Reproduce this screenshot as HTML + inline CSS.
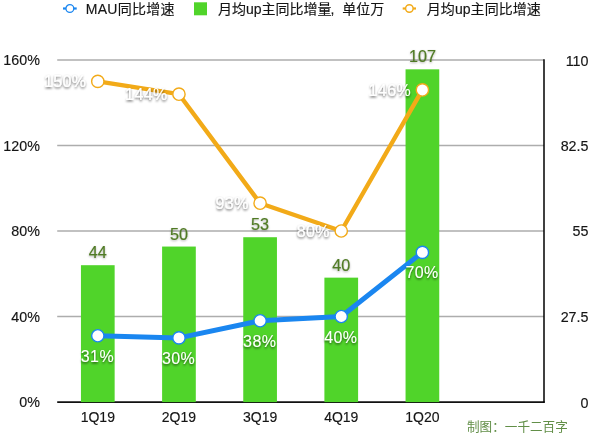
<!DOCTYPE html>
<html lang="zh-CN"><head><meta charset="utf-8"><title>chart</title>
<style>
html,body{margin:0;padding:0;background:#fff;}
body{width:600px;height:442px;overflow:hidden;}
svg{display:block;}
text{font-family:"Liberation Sans","Noto Sans CJK SC",sans-serif;}
.ax{font-size:14.3px;fill:#151515;stroke:#151515;stroke-width:0.15px;}
.ct{font-size:14px;fill:#151515;stroke:#151515;stroke-width:0.15px;}
.lg{font-size:14px;fill:#151515;stroke:#151515;stroke-width:0.15px;}
.dl{font-size:16px;fill:#fff;letter-spacing:0.4px;}
.bl{font-size:16.2px;fill:#507a25;stroke:#507a25;stroke-width:0.2px;}
.cr{font-size:12.6px;fill:#628f48;}
</style></head><body>
<svg width="600" height="442" viewBox="0 0 600 442">
<defs>
<filter id="sh" x="-20%" y="-30%" width="140%" height="170%"><feDropShadow dx="0" dy="1.4" stdDeviation="1.25" flood-color="#000" flood-opacity="0.62"/></filter>
<filter id="sh2" x="-20%" y="-30%" width="140%" height="170%"><feDropShadow dx="0" dy="1" stdDeviation="1.2" flood-color="#000" flood-opacity="0.3"/></filter>
</defs>
<rect width="600" height="442" fill="#fff"/>

<line x1="57.2" y1="316.50" x2="544.0" y2="316.50" stroke="#adadad" stroke-width="1.3"/>
<line x1="57.2" y1="231.00" x2="544.0" y2="231.00" stroke="#adadad" stroke-width="1.3"/>
<line x1="57.2" y1="145.50" x2="544.0" y2="145.50" stroke="#adadad" stroke-width="1.3"/>
<line x1="57.2" y1="60.00" x2="544.0" y2="60.00" stroke="#adadad" stroke-width="1.3"/>
<line x1="57.2" y1="402.1" x2="544.7" y2="402.1" stroke="#111" stroke-width="1.7"/>
<line x1="544.0" y1="59.3" x2="544.0" y2="402.7" stroke="#000" stroke-width="1.5"/>
<rect x="80.95" y="265.20" width="33.7" height="136.90" fill="#50d42a"/>
<rect x="162.10" y="246.55" width="33.7" height="155.55" fill="#50d42a"/>
<rect x="243.25" y="237.22" width="33.7" height="164.88" fill="#50d42a"/>
<rect x="324.40" y="277.64" width="33.7" height="124.46" fill="#50d42a"/>
<rect x="405.55" y="69.33" width="33.7" height="332.77" fill="#50d42a"/>
<polyline points="97.8,335.74 178.95,337.88 260.1,320.77 341.25,316.50 422.4,252.38" fill="none" stroke="#1a86f0" stroke-width="5" stroke-linejoin="round" stroke-linecap="round"/>
<circle cx="97.8" cy="335.74" r="6.15" fill="#fff" stroke="#1a86f0" stroke-width="1.4"/>
<circle cx="178.95" cy="337.88" r="6.15" fill="#fff" stroke="#1a86f0" stroke-width="1.4"/>
<circle cx="260.1" cy="320.77" r="6.15" fill="#fff" stroke="#1a86f0" stroke-width="1.4"/>
<circle cx="341.25" cy="316.50" r="6.15" fill="#fff" stroke="#1a86f0" stroke-width="1.4"/>
<circle cx="422.4" cy="252.38" r="6.15" fill="#fff" stroke="#1a86f0" stroke-width="1.4"/>
<polyline points="97.8,81.38 178.95,94.20 260.1,203.21 341.25,231.00 422.4,89.93" fill="none" stroke="#f2aa18" stroke-width="4.4" stroke-linejoin="round" stroke-linecap="round"/>
<circle cx="97.8" cy="81.38" r="6.15" fill="#fff" stroke="#f2aa18" stroke-width="1.4"/>
<circle cx="178.95" cy="94.20" r="6.15" fill="#fff" stroke="#f2aa18" stroke-width="1.4"/>
<circle cx="260.1" cy="203.21" r="6.15" fill="#fff" stroke="#f2aa18" stroke-width="1.4"/>
<circle cx="341.25" cy="231.00" r="6.15" fill="#fff" stroke="#f2aa18" stroke-width="1.4"/>
<circle cx="422.4" cy="89.93" r="6.15" fill="#fff" stroke="#f2aa18" stroke-width="1.4"/>
<text class="ax" x="39.9" y="407.30" text-anchor="end">0%</text>
<text class="ax" x="39.9" y="321.80" text-anchor="end">40%</text>
<text class="ax" x="39.9" y="236.30" text-anchor="end">80%</text>
<text class="ax" x="39.9" y="150.80" text-anchor="end">120%</text>
<text class="ax" x="39.9" y="65.30" text-anchor="end">160%</text>
<text class="ax" x="588.5" y="407.70" text-anchor="end">0</text>
<text class="ax" x="588.5" y="321.50" text-anchor="end">27.5</text>
<text class="ax" x="588.5" y="236.30" text-anchor="end">55</text>
<text class="ax" x="588.5" y="150.50" text-anchor="end">82.5</text>
<text class="ax" x="588.5" y="66.10" text-anchor="end">110</text>
<text class="ct" x="97.80" y="422" text-anchor="middle">1Q19</text>
<text class="ct" x="178.95" y="422" text-anchor="middle">2Q19</text>
<text class="ct" x="260.10" y="422" text-anchor="middle">3Q19</text>
<text class="ct" x="341.25" y="422" text-anchor="middle">4Q19</text>
<text class="ct" x="422.40" y="422" text-anchor="middle">1Q20</text>
<text class="bl" filter="url(#sh2)" x="97.8" y="258.20" text-anchor="middle">44</text>
<text class="bl" filter="url(#sh2)" x="178.95" y="239.55" text-anchor="middle">50</text>
<text class="bl" filter="url(#sh2)" x="260.1" y="230.22" text-anchor="middle">53</text>
<text class="bl" filter="url(#sh2)" x="341.25" y="270.64" text-anchor="middle">40</text>
<text class="bl" filter="url(#sh2)" x="422.4" y="62.33" text-anchor="middle">107</text>
<text class="dl" filter="url(#sh)" x="97.40" y="361.74" text-anchor="middle">31%</text>
<text class="dl" filter="url(#sh)" x="178.55" y="363.88" text-anchor="middle">30%</text>
<text class="dl" filter="url(#sh)" x="259.70" y="346.77" text-anchor="middle">38%</text>
<text class="dl" filter="url(#sh)" x="340.85" y="342.50" text-anchor="middle">40%</text>
<text class="dl" filter="url(#sh)" x="422.00" y="278.38" text-anchor="middle">70%</text>
<text class="dl" filter="url(#sh)" x="86.50" y="87.38" text-anchor="end">150%</text>
<text class="dl" filter="url(#sh)" x="167.65" y="100.20" text-anchor="end">144%</text>
<text class="dl" filter="url(#sh)" x="248.80" y="209.21" text-anchor="end">93%</text>
<text class="dl" filter="url(#sh)" x="329.95" y="237.00" text-anchor="end">80%</text>
<text class="dl" filter="url(#sh)" x="411.10" y="95.93" text-anchor="end">146%</text>
<line x1="63" y1="8.5" x2="76.7" y2="8.5" stroke="#1a86f0" stroke-width="2.2"/><circle cx="69.85" cy="8.5" r="3.9" fill="#fff" stroke="#1a86f0" stroke-width="1.3"/>
<text class="lg" x="85.8" y="13.8" textLength="88.7" lengthAdjust="spacing">MAU同比增速</text>
<rect x="194" y="2.3" width="13" height="13" fill="#50d42a"/>
<text class="lg" x="218" y="13.8" style="word-spacing:4px">月均up主同比增量<tspan dx="-1">,</tspan> 单位万</text>
<line x1="402.7" y1="8.5" x2="416" y2="8.5" stroke="#f2aa18" stroke-width="2.2"/><circle cx="409.35" cy="8.5" r="3.75" fill="#fff" stroke="#f2aa18" stroke-width="1.4"/>
<text class="lg" x="426.8" y="13.8" textLength="114" lengthAdjust="spacing">月均up主同比增速</text>
<text class="cr" x="467" y="430.5">制图：一千二百字</text>
</svg>
</body></html>
